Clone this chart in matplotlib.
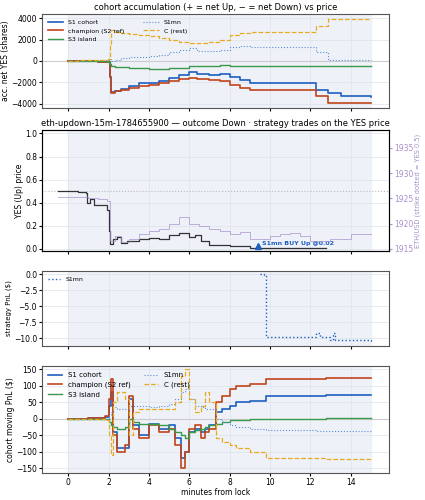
import numpy as np
import matplotlib
matplotlib.use('Agg')
import matplotlib.pyplot as plt

# ============== 数据 ==============
# panel 1: accumulated net YES shares
acc_t = [0, 0.5, 1.0, 1.5, 1.95, 2.05, 2.1, 2.3, 2.6, 3.0, 3.5, 4.0, 4.5, 5.0, 5.5, 6.0, 6.4, 7.0, 7.5, 8.0, 8.5, 9.0, 10.0, 11.0, 12.3, 12.9, 13.5, 15.0]
s1_acc = [0, -20, -40, -50, -100, -1500, -2900, -2800, -2600, -2300, -2100, -2050, -1900, -1600, -1300, -1050, -1200, -1300, -1250, -1500, -1750, -2100, -2100, -2100, -2700, -3000, -3300, -3350]
ch_acc = [0, -20, -40, -50, -100, -1500, -2950, -2850, -2700, -2500, -2350, -2250, -2100, -1850, -1700, -1600, -1700, -1800, -1850, -2200, -2500, -2700, -2750, -2750, -3300, -3900, -3900, -3950]
s3_acc = [0, -10, -20, -30, -80, -300, -500, -550, -600, -650, -700, -780, -750, -700, -700, -500, -450, -450, -420, -450, -470, -480, -480, -480, -480, -480, -480, -480]
mn_acc = [0, 20, 50, 80, 100, 200, 0, 100, 250, 350, 400, 500, 600, 800, 1000, 1200, 900, 950, 1000, 1300, 1400, 1300, 1300, 1300, 800, 100, 100, 100]
c_acc = [0, 60, 80, 100, 200, 1500, 2900, 2700, 2600, 2500, 2400, 2300, 2200, 2000, 1800, 1700, 1700, 1800, 2000, 2400, 2600, 2700, 2700, 2700, 3300, 3900, 3900, 3900]

# panel 2: YES price and ETH/USD
px_t = [-0.5, 0.5, 0.9, 0.95, 1.1, 1.3, 1.9, 2.0, 2.05, 2.2, 2.4, 2.6, 2.9, 3.5, 4.0, 4.5, 5.0, 5.5, 6.0, 6.3, 6.6, 7.0, 8.0, 9.0, 10.0, 11.0, 12.0, 12.8]
yes_px = [0.5, 0.49, 0.48, 0.40, 0.43, 0.38, 0.34, 0.15, 0.04, 0.08, 0.10, 0.05, 0.07, 0.08, 0.09, 0.08, 0.12, 0.14, 0.10, 0.12, 0.07, 0.03, 0.02, 0.01, 0.01, 0.01, 0.01, 0.01]
eth_t = [-0.5, 0.5, 1.0, 1.5, 1.9, 2.05, 2.3, 2.6, 3.0, 3.5, 4.0, 4.5, 5.0, 5.5, 6.0, 6.5, 7.0, 7.5, 8.0, 8.5, 9.0, 10.0, 10.5, 11.0, 11.5, 12.0, 13.0, 14.0, 15.0]
eth_px = [1925.3, 1925.2, 1925.0, 1924.8, 1924.5, 1916.5, 1917.5, 1916.3, 1917.0, 1918.0, 1918.5, 1919.0, 1920.0, 1921.3, 1920.0, 1919.5, 1919.0, 1918.5, 1918.0, 1918.3, 1917.0, 1917.5, 1918.0, 1918.2, 1917.5, 1916.5, 1917.0, 1918.0, 1918.0]
trade_t = [9.4]
trade_px = [0.02]

# panel 3: strategy PnL (S1mn)
pnl_t = [9.5, 9.7, 9.8, 12.2, 12.3, 12.5, 13.0, 13.1, 13.2, 15.0]
pnl_v = [0.0, -0.1, -9.8, -9.8, -9.2, -9.8, -10.2, -9.2, -10.2, -10.5]

# panel 4: cohort moving PnL
mv_t = [0, 1.0, 1.8, 2.0, 2.1, 2.2, 2.4, 2.8, 3.0, 3.2, 3.5, 4.0, 4.5, 5.0, 5.3, 5.6, 5.8, 6.0, 6.3, 6.6, 6.8, 7.0, 7.3, 7.6, 8.0, 8.3, 9.0, 9.8, 12.3, 12.8, 15.0]
s1_mv = [0, 2, 5, 40, 80, -40, -90, -90, 60, -20, -50, -15, -30, -20, -60, -120, -100, -40, -30, -40, -30, -20, 20, 30, 40, 50, 55, 68, 68, 72, 73]
ch_mv = [0, 3, 8, 60, 120, -50, -100, -80, 70, -30, -60, -20, -40, -30, -80, -150, -100, -30, -20, -60, -40, -30, 50, 70, 90, 100, 105, 120, 120, 125, 125]
s3_mv = [0, 0, -2, -10, -20, -25, -30, -25, 0, -10, -15, -15, -20, -30, -40, -50, -60, -40, -35, -30, -25, -20, -15, -10, -5, -3, -2, -1, 0, 2, 3]
mn_mv = [0, 0, 0, 10, 20, 35, 30, 30, 40, 40, 40, 35, 40, 45, 60, 80, 90, 60, 40, 35, 30, 30, 0, -10, -20, -25, -30, -35, -38, -37, -37]
c_mv = [0, -2, -5, -50, -110, 50, 80, 60, -50, 20, 30, 30, 30, 30, 50, 130, 150, 60, 20, 40, 80, 50, -60, -70, -80, -90, -100, -118, -120, -122, -122]

S1_C = '#1f5fbf'
CH_C = '#c0451c'
S3_C = '#3a9a4a'
MN_C = '#5b8fd6'
CC_C = '#e8a91c'
ETH_C = '#a88fcc'
FS = 5.5


def prep(ax):
    ax.set_facecolor('white')
    ax.axvspan(0, 15, color='#eef1f8', zorder=0)
    ax.grid(True, color='#dde2ea', linewidth=0.5)
    ax.tick_params(labelsize=FS, length=2, pad=1.5)
    for s in ax.spines.values():
        s.set_color('#555')
    ax.set_xlim(-1.3, 15.9)
    ax.set_xticks(range(0, 15, 2))


fig = plt.figure(figsize=(4.25, 5.0), dpi=100)
L, W = 42 / 425, 347 / 425


def add(top, bot):
    return fig.add_axes([L, 1 - bot / 500, W, (bot - top) / 500])


# ---- 1. 累计持仓 ----
ax1 = add(14, 108)
prep(ax1)
ax1.axhline(0, color='#ccc', lw=0.8)
ax1.step(acc_t, s1_acc, where='post', color=S1_C, lw=1.2, label='S1 cohort')
ax1.step(acc_t, ch_acc, where='post', color=CH_C, lw=1.2, label='champion (S2 ref)')
ax1.step(acc_t, s3_acc, where='post', color=S3_C, lw=1.0, label='S3 island')
ax1.step(acc_t, mn_acc, where='post', color=MN_C, lw=0.8, ls=':', label='S1mn')
ax1.step(acc_t, c_acc, where='post', color=CC_C, lw=0.9, ls='--', label='C (rest)')
ax1.set_ylim(-4400, 4400)
ax1.set_yticks([-4000, -2000, 0, 2000, 4000])
ax1.set_ylabel('acc. net YES (shares)', fontsize=FS, labelpad=1)
ax1.set_title('cohort accumulation (+ = net Up, \u2212 = net Down) vs price', fontsize=6, pad=3)
ax1.legend(ncol=2, fontsize=4.5, loc='upper left', frameon=False, handlelength=2.5,
           columnspacing=3)
ax1.tick_params(labelbottom=False)

# ---- 2. 价格 ----
ax2 = add(130, 251)
prep(ax2)
ax2.axhline(0.5, color='#bbb', lw=0.8, ls=':')
ax2.step(px_t, yes_px, where='post', color='#333', lw=0.9)
ax2.set_ylim(-0.02, 1.03)
ax2.set_ylabel('YES (Up) price', fontsize=FS, labelpad=1)
ax2.set_title('eth-updown-15m-1784655900 \u2014 outcome Down \u00b7 strategy trades on the YES price',
              fontsize=6, pad=3)
ax2.plot(trade_t, trade_px, marker='^', color=S1_C, ms=5, ls='none')
ax2.annotate('S1mn BUY Up @0.02', (trade_t[0], trade_px[0]), xytext=(3, 1),
             textcoords='offset points', fontsize=4.5, color=S1_C, fontweight='bold')
ax2.tick_params(labelbottom=False)
ax2b = ax2.twinx()
ax2b.step(eth_t, eth_px, where='post', color=ETH_C, lw=0.7, alpha=0.7)
ax2b.set_ylim(1914.6, 1938.5)
ax2b.set_yticks([1915, 1920, 1925, 1930, 1935])
ax2b.tick_params(labelsize=FS, colors=ETH_C, length=2, pad=1.5)
ax2b.set_ylabel('ETH/USD (strike dotted = YES 0.5)', fontsize=4.8, color=ETH_C, labelpad=1)

# ---- 3. 策略 PnL ----
ax3 = add(271, 346)
prep(ax3)
ax3.step(pnl_t, pnl_v, where='post', color=S1_C, lw=1.0, ls=':', label='S1mn')
ax3.set_ylim(-11.2, 0.5)
ax3.set_yticks([0, -2.5, -5, -7.5, -10])
ax3.set_ylabel('strategy PnL ($)', fontsize=5, labelpad=1)
ax3.legend(fontsize=4.5, loc='upper left', frameon=False)
ax3.tick_params(labelbottom=False)

# ---- 4. moving PnL ----
ax4 = add(366, 473)
prep(ax4)
ax4.axhline(0, color='#ccc', lw=0.8)
ax4.step(mv_t, s1_mv, where='post', color=S1_C, lw=1.2, label='S1 cohort')
ax4.step(mv_t, ch_mv, where='post', color=CH_C, lw=1.2, label='champion (S2 ref)')
ax4.step(mv_t, s3_mv, where='post', color=S3_C, lw=1.0, label='S3 island')
ax4.step(mv_t, mn_mv, where='post', color=MN_C, lw=0.8, ls=':', label='S1mn')
ax4.step(mv_t, c_mv, where='post', color=CC_C, lw=0.9, ls='--', label='C (rest)')
ax4.set_ylim(-165, 160)
ax4.set_yticks([-150, -100, -50, 0, 50, 100, 150])
ax4.set_ylabel('cohort moving PnL ($)', fontsize=FS, labelpad=1)
ax4.set_xlabel('minutes from lock', fontsize=FS, labelpad=1)
ax4.legend(ncol=2, fontsize=5, loc='upper left', frameon=False, columnspacing=2)

fig.savefig('out.png', dpi=100)
